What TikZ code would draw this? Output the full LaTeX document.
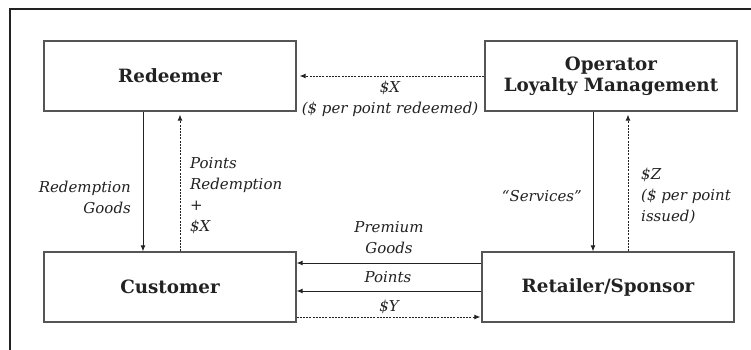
\documentclass[tikz,border=0pt]{standalone}
\usepackage{fontspec}
\setmainfont{DejaVu Serif}
\usetikzlibrary{arrows.meta}
\definecolor{ink}{HTML}{222222}
\definecolor{boxc}{HTML}{555555}
\begin{document}
\begin{tikzpicture}[x=1pt,y=-1pt,
  box/.style={draw=boxc, line width=1.3pt, minimum width=252pt, minimum height=70pt, inner sep=0pt,
    font=\bfseries\fontsize{18.3}{21}\selectfont, text=ink, align=center},
  lbl/.style={font=\itshape\fontsize{15}{21}\selectfont, text=ink, inner sep=0pt},
  flow/.style={draw=ink, line width=0.9pt, -{Latex[length=6pt,width=5pt]}},
  dflow/.style={flow, dash pattern=on 2pt off 1.2pt}]
\useasboundingbox (0,0) rectangle (751,350);
\fill[white] (0,0) rectangle (751,350);
\draw[ink, line width=2pt] (10,350) -- (10,9) -- (751,9);
\node[box] (red) at (170,76) {Redeemer};
\node[box] (op) at (611,76) {Operator\\Loyalty Management};
\node[box] (cus) at (170,287) {Customer};
\node[box] (ret) at (608,287) {Retailer/Sponsor};
% top dashed
\draw[dflow, shorten >=3pt] (op.west) -- (red.east);
\node[lbl, align=center] (lx) at (390,99) {\$X\\(\$ per point redeemed)};
% left verticals
\draw[flow] ([xshift=-27pt]red.south) -- ([xshift=-27pt]cus.north);
\draw[dflow, shorten >=3pt] ([xshift=10pt]cus.north) -- ([xshift=10pt]red.south);
\node[lbl, align=right, anchor=east] (lrg) at (131,197) {Redemption\\Goods};
\node[lbl, align=left, anchor=west] (lpr) at (190,196) {Points\\Redemption\\+\\\$X};
% right verticals
\draw[flow] ([xshift=-18pt]op.south) -- ([xshift=-18pt]op.south |- ret.north);
\draw[dflow, shorten >=3pt] ([xshift=17pt]op.south |- ret.north) -- ([xshift=17pt]op.south);
\node[lbl, anchor=east] (lsv) at (582,196) {``Services''};
\node[lbl, align=left, anchor=west] (lz) at (641,196) {\$Z\\(\$ per point\\issued)};
% horizontals
\draw[flow] ([yshift=24pt]ret.west) -- ([yshift=24pt]ret.west -| cus.east);
\draw[flow] ([yshift=-4pt]ret.west) -- ([yshift=-4pt]ret.west -| cus.east);
\draw[dflow, shorten >=1pt] ([yshift=-30pt]cus.east) -- ([yshift=-30pt]cus.east -| ret.west);
\node[lbl, align=center] (lpg) at (389,238) {Premium\\Goods};
\node[lbl] (lpt) at (388,277) {Points};
\node[lbl] (ly) at (389,307) {\$Y};
\end{tikzpicture}
\end{document}
